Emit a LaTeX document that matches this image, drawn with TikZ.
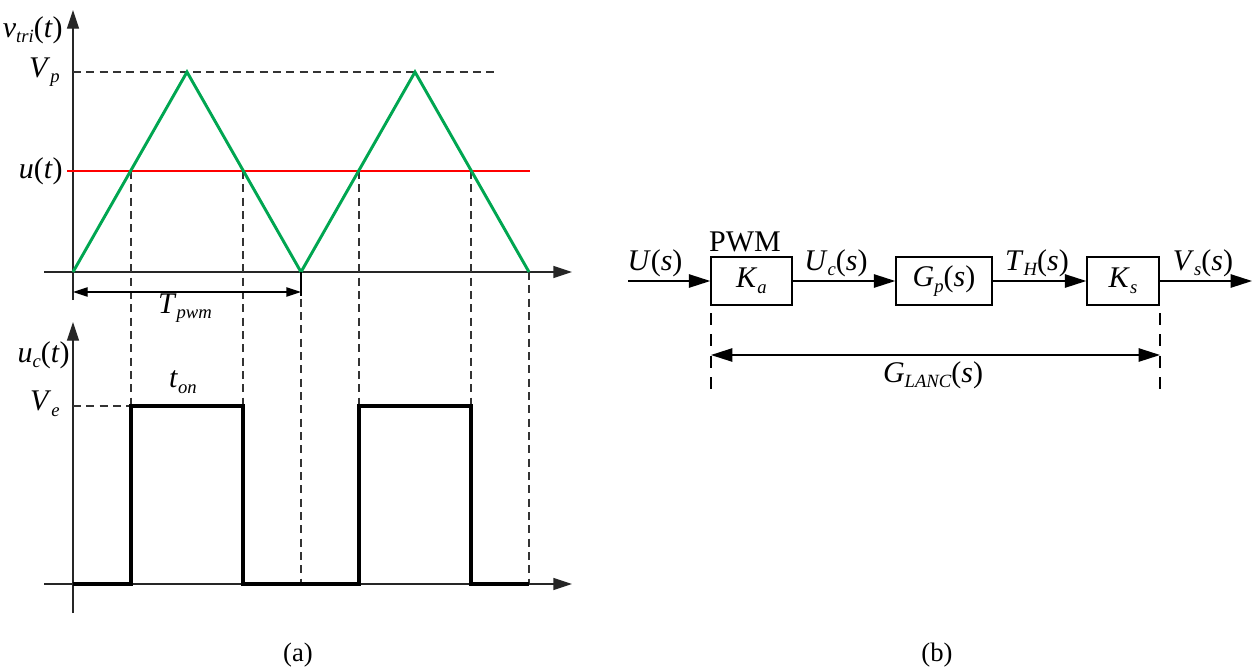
\documentclass[tikz,border=0pt]{standalone}
\usepackage{fontspec}
\setmainfont{Liberation Serif}
\usetikzlibrary{arrows.meta}
\newcommand{\vi}[1]{\textit{#1}}
\newcommand{\subi}[1]{\raisebox{-0.4ex}{\fontsize{14}{14}\selectfont\itshape #1}}
\definecolor{trigreen}{RGB}{0,166,81}
\begin{document}
\begin{tikzpicture}[x=0.75pt,y=-0.75pt,
  lbl/.style={font=\fontsize{22.5}{26}\selectfont, inner sep=0pt},
  captext/.style={font=\fontsize{20}{24}\selectfont, inner sep=0pt},
  axis/.style={line width=1pt, black!85, -{Triangle[length=14pt,width=9pt]}},
  guide/.style={line width=0.9pt, dash pattern=on 6pt off 4pt, black!80},
  wave/.style={line width=2.2pt, trigreen, line join=miter},
  pulse/.style={line width=2.3pt, black, line join=miter},
  dim/.style={line width=1pt, {Triangle[length=11pt,width=7pt]}-{Triangle[length=11pt,width=7pt]}},
  blk/.style={draw, line width=1.1pt, minimum height=36pt, inner sep=0pt, font=\fontsize{22.5}{26}\selectfont},
  sig/.style={line width=1.1pt, -{Triangle[length=16pt,width=10pt]}},
  bound/.style={line width=1.3pt, dash pattern=on 9pt off 7pt}
]
\useasboundingbox (0,0) rectangle (1255,668);

% ---------- top chart ----------
\draw[axis] (44,272) -- (572,272);
\draw[axis] (73,300) -- (73,10);
\draw[guide] (73,72) -- (497,72);
\draw[red, line width=1pt] (67,171) -- (530,171);
\draw[guide] (131,171) -- (131,584);
\draw[guide] (243,171) -- (243,584);
\draw[guide] (301,272) -- (301,584);
\draw[guide] (359,171) -- (359,584);
\draw[guide] (471,171) -- (471,584);
\draw[guide] (529,272) -- (529,584);
\draw[wave] (73,272) -- (187,72) -- (301,272) -- (415,72) -- (529,272);
\draw[line width=1pt] (301,272) -- (301,296);
\coordinate (tp1) at (73,292);
\coordinate (tp2) at (301,292);
\draw[dim] (tp1) -- (tp2);

\node[lbl, anchor=east] (lvtri) at (63,30) {\vi{v}\subi{tri}(\vi{t})};
\node[lbl, anchor=east] (lvp) at (60,72) {\vi{V}\subi{p}};
\node[lbl, anchor=east] (lut) at (63,171) {\vi{u}(\vi{t})};
\node[lbl] (ltpwm) at (185,308) {\vi{T}\subi{pwm}};

% ---------- bottom chart ----------
\draw[axis] (44,584) -- (572,584);
\draw[axis] (73,613) -- (73,322);
\draw[guide] (73,406) -- (131,406);
\draw[pulse] (73,584) -- (131,584) -- (131,406) -- (243,406) -- (243,584) -- (359,584) -- (359,406) -- (471,406) -- (471,584) -- (529,584);

\node[lbl, anchor=east] (luc) at (70,355) {\vi{u}\subi{c}(\vi{t})};
\node[lbl, anchor=east] (lve) at (60,404) {\vi{V}\subi{e}};
\node[lbl] (lton) at (183,382) {\vi{t}\subi{on}};

\node[captext] (capa) at (298,655) {(a)};
\node[captext] (capb) at (937,655) {(b)};

% ---------- block diagram ----------
\node[blk, minimum width=60.75pt] (ka) at (751.5,281) {\vi{K}\subi{a}};
\node[blk, minimum width=72pt] (gp) at (944,281) {\vi{G}\subi{p}(\vi{s})};
\node[blk, minimum width=54pt] (ks) at (1123,281) {\vi{K}\subi{s}};
\coordinate (in) at (628,281);
\coordinate (out) at (1252,281);
\draw[sig] (in) -- (ka);
\draw[sig] (ka) -- (gp);
\draw[sig] (gp) -- (ks);
\draw[sig] (ks) -- (out);

\node[lbl] (lpwm) at (745,242) {PWM};
\node[lbl] (lus) at (655,263) {\vi{U}(\vi{s})};
\node[lbl] (lucs) at (836,263) {\vi{U}\subi{c}(\vi{s})};
\node[lbl] (lths) at (1037,263) {\vi{T}\subi{H}(\vi{s})};
\node[lbl] (lvss) at (1203,263) {\vi{V}\subi{s}(\vi{s})};

\coordinate (b1t) at (711,313);
\coordinate (b1b) at (711,390);
\coordinate (b2t) at (1160,313);
\coordinate (b2b) at (1160,390);
\draw[bound] (b1t) -- (b1b);
\draw[bound] (b2t) -- (b2b);
\coordinate (g1) at (711,355);
\coordinate (g2) at (1160,355);
\draw[line width=1.1pt, {Triangle[length=16pt,width=10pt]}-{Triangle[length=16pt,width=10pt]}] (g1) -- (g2);
\node[lbl] (lglanc) at (933,375) {\vi{G}\subi{LANC}(\vi{s})};
\end{tikzpicture}
\end{document}
